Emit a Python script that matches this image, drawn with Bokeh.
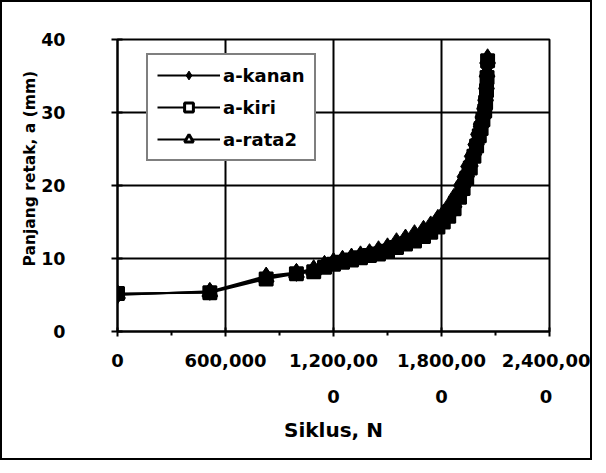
from bokeh.plotting import figure
from bokeh.models import FixedTicker, Legend, LegendItem, Title, Range1d
from bokeh.embed import file_html
from bokeh.resources import INLINE

# ---- data ----
cycles = [0, 513000, 826000, 994000, 1090000, 1150000, 1200000, 1250000, 1300000, 1350000,
          1400000, 1450000, 1500000, 1550000, 1600000, 1650000, 1700000, 1740000, 1780000, 1810000,
          1840000, 1870000, 1900000, 1920000, 1940000, 1960000, 1980000, 1995000, 2010000, 2020000,
          2030000, 2040000, 2045000, 2050000, 2053000, 2056000]
a_kanan = [5.0, 5.5, 7.6, 8.1, 8.6, 9.2, 9.6, 9.9, 10.2, 10.5,
           10.8, 11.2, 11.6, 12.3, 12.8, 13.4, 14.0, 14.6, 15.5, 16.2,
           17.2, 18.4, 20.0, 21.2, 22.6, 24.0, 25.6, 27.0, 28.4, 29.4,
           30.6, 31.8, 33.0, 34.6, 36.2, 37.5]
a_kiri = [5.2, 5.3, 7.2, 7.9, 8.2, 8.8, 9.2, 9.5, 9.8, 10.1,
          10.4, 10.6, 11.0, 11.5, 12.0, 12.4, 13.0, 13.6, 14.3, 15.0,
          15.8, 16.8, 18.4, 19.6, 21.0, 22.4, 24.0, 25.4, 26.8, 27.8,
          29.0, 30.2, 31.4, 33.0, 34.8, 37.1]
a_rata2 = [5.1, 5.4, 7.4, 8.0, 8.4, 9.0, 9.4, 9.7, 10.0, 10.3,
           10.6, 10.9, 11.3, 11.9, 12.4, 12.9, 13.5, 14.1, 14.9, 15.6,
           16.5, 17.6, 19.2, 20.4, 21.8, 23.2, 24.8, 26.2, 27.6, 28.6,
           29.8, 31.0, 32.2, 33.8, 35.5, 37.3]

x_ticks = [0, 600000, 1200000, 1800000, 2400000]
x_tick_labels = ["0", "600,000", "1,200,00\n0", "1,800,00\n0", "2,400,00\n0"]
x_minor_ticks = [300000, 900000, 1500000, 2100000]
y_ticks = [0, 10, 20, 30, 40]

FONT = "DejaVu Sans"

p = figure(width=592, height=460, output_backend="svg", toolbar_location=None,
           x_range=Range1d(0, 2400000), y_range=Range1d(0, 40),
           min_border_left=115, min_border_right=45, min_border_top=37, min_border_bottom=131)
p.styles = {"border": "2px solid black"}
p.background_fill_color = "white"
p.border_fill_color = "white"
p.outline_line_color = "black"
p.outline_line_width = 2

# axes
p.xaxis.ticker = FixedTicker(ticks=x_ticks, minor_ticks=x_minor_ticks)
p.xaxis.major_label_overrides = dict(zip(x_ticks, x_tick_labels))
p.yaxis.ticker = FixedTicker(ticks=y_ticks, minor_ticks=[])
for ax in (p.xaxis[0], p.yaxis[0]):
    ax.axis_line_color = "black"
    ax.axis_line_width = 2
    ax.major_tick_line_color = "black"
    ax.major_tick_line_width = 2
    ax.minor_tick_line_color = "black"
    ax.minor_tick_line_width = 2
    ax.major_label_text_font = FONT
    ax.major_label_text_font_style = "bold"
    ax.major_label_text_color = "black"
p.xaxis.major_label_text_font_size = "18px"
p.yaxis.major_label_text_font_size = "17.5px"
p.xaxis.major_tick_in = 4
p.xaxis.major_tick_out = 5
p.xaxis.minor_tick_in = 0
p.xaxis.minor_tick_out = 4
p.xaxis.major_label_standoff = 13
p.xaxis.major_label_text_line_height = 1.75
p.yaxis.major_tick_in = 5
p.yaxis.major_tick_out = 6
p.yaxis.major_label_standoff = 46

p.xaxis.axis_label = "Siklus, N"
p.xaxis.axis_label_text_font = FONT
p.xaxis.axis_label_text_font_style = "bold"
p.xaxis.axis_label_text_font_size = "20px"
p.xaxis.axis_label_text_color = "black"
p.xaxis.axis_label_standoff = 8

# y-axis title as a left-side title (allows shifting along the axis)
ytitle = Title(text="Panjang retak, a (mm)", align="left", offset=65, standoff=0,
               text_font=FONT, text_font_style="bold", text_font_size="15.5px",
               text_color="black")
p.add_layout(ytitle, "left")

# grid
p.xgrid.ticker = FixedTicker(ticks=x_ticks)
p.ygrid.ticker = FixedTicker(ticks=y_ticks)
for g in (p.xgrid[0], p.ygrid[0]):
    g.grid_line_color = "black"
    g.grid_line_width = 2

# series (dense overlapping marks appear as a solid black band)
p.line(cycles, a_kiri, line_color="black", line_width=2)
p.scatter(cycles, a_kiri, marker="square", size=13, fill_color="black", line_color="black", line_width=2)
p.line(cycles, a_rata2, line_color="black", line_width=2)
p.scatter(cycles, a_rata2, marker="triangle", size=15, fill_color="black", line_color="black", line_width=2)
p.line(cycles, a_kanan, line_color="black", line_width=2)
p.scatter(cycles, a_kanan, marker="diamond", size=18, fill_color="black", line_color="black", line_width=1)

# legend swatches (styled like the reference legend); their points lie outside the ranges
off_x = [-1e7, -2e7]
off_y = [-100, -200]
lg_l1 = p.line(off_x, off_y, line_color="black", line_width=2)
lg_s1 = p.scatter(off_x, off_y, marker="diamond", size=18, fill_color="black", line_color="black")
lg_l2 = p.line(off_x, off_y, line_color="black", line_width=2)
lg_s2 = p.scatter(off_x, off_y, marker="square", size=12, fill_color="white", line_color="black", line_width=3)
lg_l3 = p.line(off_x, off_y, line_color="black", line_width=2)
lg_s3 = p.scatter(off_x, off_y, marker="triangle", size=14, fill_color="white", line_color="black", line_width=3)

legend = Legend(items=[
    LegendItem(label="a-kanan", renderers=[lg_l1, lg_s1]),
    LegendItem(label="a-kiri", renderers=[lg_l2, lg_s2]),
    LegendItem(label="a-rata2", renderers=[lg_l3, lg_s3]),
], location=(29, 170))
legend.border_line_color = "black"
legend.border_line_width = 2
legend.background_fill_color = "white"
legend.background_fill_alpha = 1
legend.glyph_width = 63
legend.glyph_height = 22
legend.label_height = 22
legend.label_standoff = 3
legend.padding = 9
legend.spacing = 10
legend.margin = 0
legend.label_text_font = FONT
legend.label_text_font_style = "bold"
legend.label_text_font_size = "18px"
legend.label_text_color = "black"
p.add_layout(legend)

open("out.html", "w").write(file_html(p, INLINE))
